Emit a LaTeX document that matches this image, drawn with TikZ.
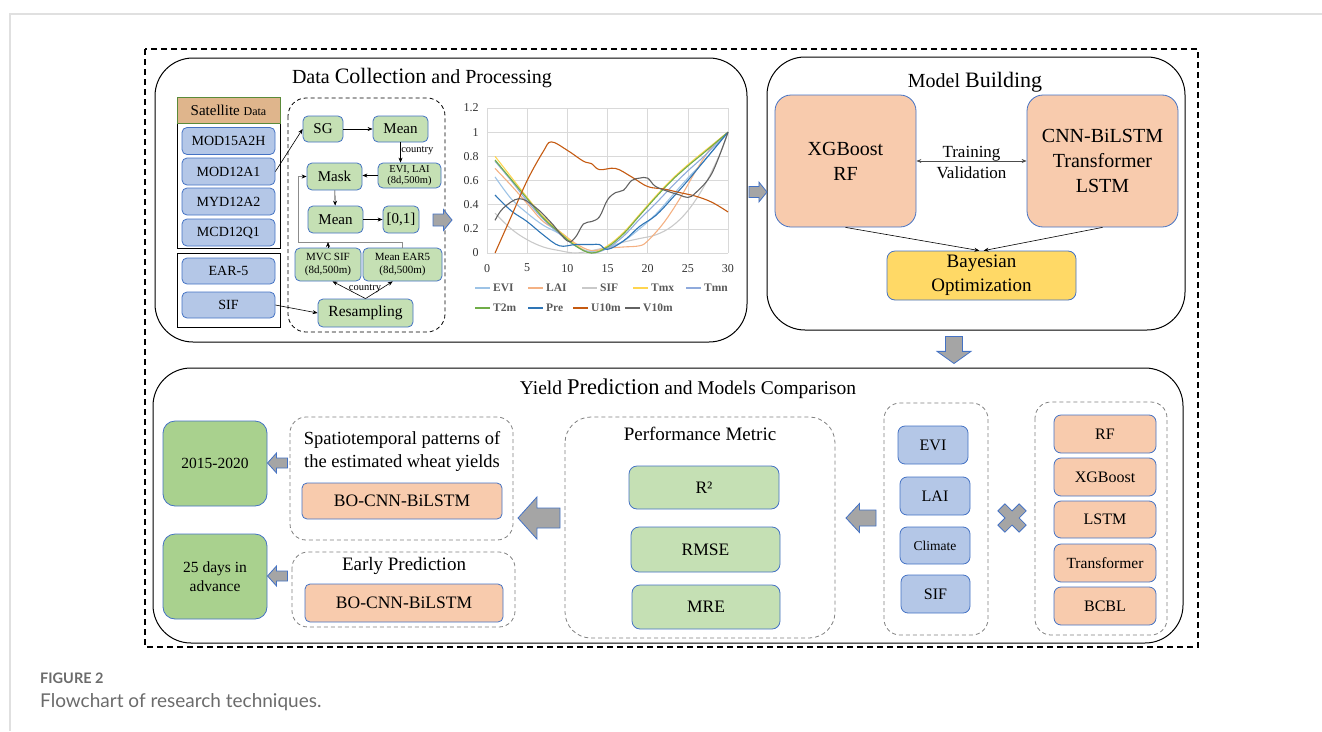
\documentclass[tikz,border=0pt]{standalone}
\usepackage{fontspec}
\setmainfont{Liberation Serif}
\newfontfamily\capFont{Lato}
\usetikzlibrary{arrows.meta,positioning}

\definecolor{edgeBlue}{HTML}{4472C4}
\definecolor{fillBlue}{HTML}{B4C7E7}
\definecolor{fillGreen}{HTML}{C5E0B4}
\definecolor{fillDeepGreen}{HTML}{A9D18E}
\definecolor{fillOrange}{HTML}{F8CBAD}
\definecolor{fillYellow}{HTML}{FFD966}
\definecolor{fillTan}{HTML}{DFB58C}
\definecolor{arrowGray}{HTML}{A5A5A5}
\definecolor{capGray}{HTML}{6B6B6B}
\definecolor{eviC}{HTML}{9DC3E6}
\definecolor{laiC}{HTML}{F4B183}
\definecolor{sifC}{HTML}{C9C9C9}
\definecolor{tmxC}{HTML}{FFD54F}
\definecolor{tmnC}{HTML}{8FAADC}
\definecolor{ttmC}{HTML}{70AD47}
\definecolor{preC}{HTML}{2E75B6}
\definecolor{uwC}{HTML}{C55A11}
\definecolor{vwC}{HTML}{626262}

% block arrow: cx, cy, rotation, length, head width, shaft width
\newcommand{\blockArrow}[6]{%
  \begin{scope}[shift={(#1,#2)}, rotate=#3]
    \draw[blockArr] ({-#4/2},{-#6/2}) -- ({0.05*#4},{-#6/2}) -- ({0.05*#4},{-#5/2})
      -- ({#4/2},0) -- ({0.05*#4},{#5/2}) -- ({0.05*#4},{#6/2}) -- ({-#4/2},{#6/2}) -- cycle;
  \end{scope}}

\begin{document}
\begin{tikzpicture}[
    x=1pt, y=-1pt,
    >={Stealth[length=5pt,width=4pt]},
    pageRule/.style={draw=black!12, line width=1.6pt},
    outerDash/.style={draw=black, line width=1.2pt, dash pattern=on 6pt off 4pt},
    panel/.style={draw=black, line width=1pt, rounded corners=38pt},
    procDash/.style={draw=black, line width=0.8pt, dash pattern=on 4pt off 3pt, rounded corners=18pt},
    groupDash/.style={draw=black!50, line width=0.8pt, dash pattern=on 4pt off 3pt, rounded corners=16pt},
    frameBox/.style={draw=black, line width=1pt},
    baseBox/.style={
        rectangle,
        draw=edgeBlue,
        line width=0.8pt,
        rounded corners=5pt,
        align=center,
        inner sep=1pt
    },
    blueBox/.style={baseBox, fill=fillBlue, font=\fontsize{14}{16}\selectfont},
    greenBox/.style={baseBox, fill=fillGreen, font=\fontsize{15}{17}\selectfont},
    orangeBox/.style={baseBox, fill=fillOrange, font=\fontsize{17.5}{20}\selectfont},
    bigBox/.style={baseBox, fill=fillOrange, rounded corners=16pt, font=\fontsize{20}{25}\selectfont},
    smallNote/.style={font=\fontsize{10.5}{11.5}\selectfont, inner sep=0.5pt},
    flowArr/.style={draw=black, line width=0.6pt, ->},
    feedLine/.style={draw=black!45, line width=1pt, -{Stealth[length=5pt,width=4pt,black]}},
    blockArr/.style={draw=edgeBlue, fill=arrowGray, line width=0.8pt, line join=miter},
    gridLine/.style={draw=black!15, line width=0.5pt},
    axisLbl/.style={font=\fontsize{12}{13}\selectfont, text=black!80, inner sep=1pt},
    curve/.style={line width=1.1pt, smooth, tension=0.6},
    legendTxt/.style={font=\bfseries\fontsize{11.5}{12}\selectfont, text=black!65, anchor=west, inner sep=0pt}
]
\useasboundingbox (0,0) rectangle (1322,731);

% ==================== PAGE & FRAMES ====================
\draw[pageRule] (10,731) -- (10,14) -- (1322,14);
\draw[outerDash] (145,49) rectangle (1198,647);
\draw[panel] (155,58) rectangle (747,342);
\draw[panel] (767,57) rectangle (1185,330);
\draw[panel] (153,368) rectangle (1183,643);

% ==================== DATA COLLECTION ====================
\node (dcTitle) at (422,78) {\fontsize{20}{22}\selectfont Data {\fontsize{22}{24}\selectfont Collection} and Processing};

\draw[frameBox] (177,97) rectangle (280,248);
\node[rectangle, draw=ttmC!80!black, line width=0.8pt, fill=fillTan, minimum width=103pt, minimum height=26pt, inner sep=0pt] (satHead) at (228.5,110) {\fontsize{15}{17}\selectfont Satellite {\fontsize{12}{14}\selectfont Data}};
\node[blueBox, minimum width=93pt, minimum height=27pt] (mod15) at (228.5,141) {MOD15A2H};
\node[blueBox, minimum width=93pt, minimum height=27pt] (mod12a) at (228.5,171.5) {MOD12A1};
\node[blueBox, minimum width=93pt, minimum height=27pt] (myd12) at (228.5,201.5) {MYD12A2};
\node[blueBox, minimum width=93pt, minimum height=27pt] (mcd12) at (228.5,232.5) {MCD12Q1};

\draw[frameBox] (177,253) rectangle (280,327);
\node[blueBox, minimum width=93pt, minimum height=26pt] (ear5) at (228.5,271) {EAR-5};
\node[blueBox, minimum width=93pt, minimum height=26pt] (sifSrc) at (228.5,305) {SIF};

% processing chain
\draw[procDash] (288,98) rectangle (445,332);
\node[greenBox, minimum width=40pt, minimum height=26pt] (sg) at (323,129) {SG};
\node[greenBox, minimum width=55pt, minimum height=26pt] (meanA) at (400.5,129) {Mean};
\node[greenBox, minimum width=63pt, minimum height=25pt, font=\fontsize{10.5}{11.5}\selectfont] (eviLai) at (409.5,175.5) {EVI, LAI\\(8d,500m)};
\node[greenBox, minimum width=55pt, minimum height=27pt] (mask) at (334.5,176.5) {Mask};
\node[greenBox, minimum width=55pt, minimum height=27pt] (meanB) at (335.5,219.5) {Mean};
\node[greenBox, minimum width=36pt, minimum height=27pt] (unit) at (401,219.5) {[0,1]};
\node[greenBox, minimum width=66pt, minimum height=33pt, font=\fontsize{11}{12.5}\selectfont] (mvc) at (328,264.5) {MVC SIF\\(8d,500m)};
\node[greenBox, minimum width=79pt, minimum height=33pt, font=\fontsize{11}{12.5}\selectfont] (meanEar) at (402.5,264.5) {Mean EAR5\\(8d,500m)};
\node[greenBox, minimum width=95pt, minimum height=28pt, font=\fontsize{15.5}{17}\selectfont] (resamp) at (365.5,313) {Resampling};

\draw[flowArr] (mod12a.east) -- (sg.west);
\draw[flowArr] (sifSrc.east) -- (resamp.west);
\draw[flowArr] (sg) -- (meanA);
\draw[flowArr] (meanA.south) -- node[right, smallNote, pos=0.4] (cntryA) {country} (meanA.south |- eviLai.north);
\draw[flowArr] (eviLai.west) -- (mask.east |- eviLai.west);
\draw[flowArr] (mask) -- (meanB);
\draw[flowArr] (meanB) -- (unit);
\coordinate (fbTurn) at (298,242);
\draw[feedLine] (meanEar.north) |- (fbTurn) |- (mask.west);
\draw[flowArr] (mvc.north) -- (mvc.north |- fbTurn);
\draw[flowArr] (resamp.north) -- (mvc.-75);
\draw[flowArr] (resamp.north) -- (meanEar.-120);
\node[smallNote] (cntryB) at (365,289) {country};

\blockArrow{442.5}{220}{0}{19}{21}{12}

% ==================== CHART ====================
\begin{scope}[shift={(487,253)}, x=8.033pt, y=120.8pt]
\foreach \gx in {0,5,...,30} \draw[gridLine] (\gx,0) -- (\gx,1.2);
\foreach \gy in {0,0.2,0.4,0.6,0.8,1,1.2} \draw[gridLine] (0,\gy) -- (30,\gy);
\foreach \gy in {0,0.2,0.4,0.6,0.8,1,1.2} \node[axisLbl, anchor=east] (yl\gy) at (-0.9,\gy) {\gy};
\foreach \gx in {0,5,...,30} \node[axisLbl] (xl\gx) at (\gx,-0.125) {\gx};

\draw[curve, sifC] plot coordinates {(1,0.33) (3,0.2) (5,0.11) (7,0.05) (9,0.02) (11,0.0) (13,0.02) (15,0.05) (17,0.09) (19,0.12) (21,0.15) (23,0.22) (25,0.35) (27,0.55) (29,0.82) (30,1)};
\draw[curve, eviC] plot coordinates {(1,0.63) (3,0.45) (5,0.33) (7,0.23) (9,0.16) (11,0.06) (13,0.01) (15,0.04) (17,0.1) (19,0.2) (21,0.32) (23,0.47) (25,0.62) (27,0.76) (30,1)};
\draw[curve, laiC] plot coordinates {(1,0.7) (3,0.56) (5,0.41) (7,0.26) (9,0.18) (11,0.08) (13,0.02) (15,0.04) (17,0.05) (19,0.06) (20,0.1) (22,0.25) (24,0.45) (26,0.68) (28,0.88) (30,1)};
\draw[curve, tmxC] plot coordinates {(1,0.8) (3,0.63) (5,0.46) (7,0.3) (9,0.18) (11,0.07) (13,0.0) (15,0.06) (17,0.17) (19,0.32) (21,0.47) (23,0.61) (25,0.73) (27,0.84) (30,1)};
\draw[curve, tmnC] plot coordinates {(1,0.76) (3,0.6) (5,0.43) (7,0.28) (9,0.16) (11,0.06) (13,0.0) (15,0.04) (17,0.14) (19,0.28) (21,0.41) (23,0.55) (25,0.68) (27,0.8) (30,1)};
\draw[curve, ttmC] plot coordinates {(1,0.77) (3,0.61) (5,0.45) (7,0.29) (9,0.17) (11,0.06) (13,0.0) (15,0.05) (17,0.16) (19,0.31) (21,0.46) (23,0.6) (25,0.72) (27,0.83) (30,1)};
\draw[curve, preC] plot coordinates {(1,0.48) (3,0.35) (5,0.26) (7,0.15) (9,0.06) (11,0.07) (13,0.07) (14,0.07) (15,0.03) (17,0.1) (19,0.22) (21,0.31) (23,0.45) (25,0.6) (27,0.76) (30,1)};
\draw[curve, uwC] plot coordinates {(1,0) (3,0.3) (5,0.6) (7,0.84) (8,0.92) (10,0.85) (12,0.76) (13,0.74) (14,0.69) (16,0.7) (18,0.63) (20,0.55) (22,0.53) (24,0.5) (26,0.47) (28,0.42) (30,0.34)};
\draw[curve, vwC] plot coordinates {(1,0.27) (2,0.37) (4,0.45) (6,0.38) (8,0.25) (10,0.1) (11,0.13) (12,0.24) (13,0.26) (14,0.3) (15,0.44) (16,0.5) (17,0.52) (18,0.6) (19,0.62) (20,0.62) (21,0.55) (23,0.5) (24,0.48) (25,0.46) (26,0.5) (28,0.66) (30,1)};
\end{scope}

% legend
\foreach \lx/\ly/\lc/\lt in {475/288/eviC/EVI, 528/288/laiC/LAI, 582/288/sifC/SIF, 633/288/tmxC/Tmx, 686/288/tmnC/Tmn,
                             475/308/ttmC/T2m, 528/308/preC/Pre, 573/308/uwC/U10m, 625/308/vwC/V10m} {
    \draw[\lc, line width=1.1pt] (\lx,\ly) -- ++(15,0);
    \node[legendTxt] (lg\lt) at (\lx+18,\ly) {\lt};
}

\blockArrow{758}{192}{0}{18}{20}{11}

% ==================== MODEL BUILDING ====================
\node (mbTitle) at (975,82) {\fontsize{20}{22}\selectfont Model {\fontsize{22}{24}\selectfont Building}};
\node[bigBox, minimum width=141pt, minimum height=132pt] (xgb) at (845.5,161) {XGBoost\\RF};
\node[bigBox, minimum width=151pt, minimum height=132pt] (cnn) at (1102.5,161) {CNN-BiLSTM\\Transformer\\LSTM};
\node[baseBox, fill=fillYellow, rounded corners=8pt, minimum width=189pt, minimum height=49pt, font=\fontsize{19}{24}\selectfont] (bayes) at (981.5,275.5) {Bayesian\\Optimization};

\draw[draw=black!70, line width=0.7pt, <->] (xgb) -- node[above=-4pt, font=\fontsize{17}{19}\selectfont, text=black] (trainLbl) {Training} node[below=2pt, font=\fontsize{17}{19}\selectfont, text=black] (validLbl) {Validation} (cnn);
\draw[flowArr] (xgb.south) -- (bayes.95);
\draw[flowArr] (cnn.south) -- (bayes.85);

\blockArrow{954}{350}{-90}{27}{34}{17}

% ==================== YIELD PREDICTION ====================
\node (ypTitle) at (688,389) {\fontsize{19.5}{22}\selectfont Yield {\fontsize{22.5}{24}\selectfont Prediction} and Models Comparison};

\node[baseBox, fill=fillDeepGreen, rounded corners=12pt, minimum width=104pt, minimum height=85pt, font=\fontsize{15.5}{18}\selectfont] (yrs) at (215,463.5) {2015-2020};
\node[baseBox, fill=fillDeepGreen, rounded corners=12pt, minimum width=104pt, minimum height=85pt, font=\fontsize{15.5}{19}\selectfont] (adv) at (215,576.5) {25 days in\\advance};

\draw[groupDash] (290,417) rectangle (513,540);
\node[align=center, font=\fontsize{18.5}{23}\selectfont] (spatTxt) at (402,451) {Spatiotemporal patterns of\\the estimated wheat yields};
\node[orangeBox, minimum width=200pt, minimum height=36pt] (boA) at (402,501) {BO-CNN-BiLSTM};

\draw[groupDash] (292,552) rectangle (515,627);
\node[font=\fontsize{19}{21}\selectfont] (earlyTxt) at (404,566) {Early Prediction};
\node[orangeBox, minimum width=198pt, minimum height=38pt] (boB) at (404,603) {BO-CNN-BiLSTM};

\blockArrow{277.5}{463}{180}{20}{20}{10}
\blockArrow{277.5}{576}{180}{20}{20}{10}
\blockArrow{539}{518}{180}{42}{42}{20}

% performance metric
\draw[groupDash, rounded corners=26pt] (565,417) rectangle (835,638);
\node[font=\fontsize{19}{21}\selectfont] (perfTxt) at (700,434) {Performance Metric};
\node[greenBox, rounded corners=8pt, minimum width=150pt, minimum height=43pt, font=\fontsize{17.5}{20}\selectfont] (rsq) at (704,487.5) {R²};
\node[greenBox, rounded corners=8pt, minimum width=149pt, minimum height=45pt, font=\fontsize{17.5}{20}\selectfont] (rmse) at (705.5,549.5) {RMSE};
\node[greenBox, rounded corners=8pt, minimum width=148pt, minimum height=44pt, font=\fontsize{17.5}{20}\selectfont] (mre) at (706,607) {MRE};

\blockArrow{861}{518}{180}{30}{29}{16}

% inputs
\draw[groupDash] (884,403) rectangle (988,635);
\node[blueBox, rounded corners=7pt, minimum width=70pt, minimum height=38pt, font=\fontsize{16}{18}\selectfont] (eviIn) at (933,445) {EVI};
\node[blueBox, rounded corners=7pt, minimum width=70pt, minimum height=38pt, font=\fontsize{16}{18}\selectfont] (laiIn) at (935,496) {LAI};
\node[blueBox, rounded corners=7pt, minimum width=70pt, minimum height=37pt, font=\fontsize{13.5}{15}\selectfont] (climIn) at (935,545.5) {Climate};
\node[blueBox, rounded corners=7pt, minimum width=69pt, minimum height=38pt, font=\fontsize{16}{18}\selectfont] (sifIn) at (935.5,594) {SIF};

% cross
\begin{scope}[shift={(1012,518)}, rotate=45]
\draw[blockArr] (-5,-15) -- (5,-15) -- (5,-5) -- (15,-5) -- (15,5) -- (5,5) -- (5,15) -- (-5,15) -- (-5,5) -- (-15,5) -- (-15,-5) -- (-5,-5) -- cycle;
\end{scope}

% models
\draw[groupDash] (1035,402) rectangle (1167,635);
\node[orangeBox, rounded corners=7pt, minimum width=102pt, minimum height=38pt, font=\fontsize{16}{18}\selectfont] (rfM) at (1105,434) {RF};
\node[orangeBox, rounded corners=7pt, minimum width=102pt, minimum height=38pt, font=\fontsize{16}{18}\selectfont] (xgbM) at (1105,477) {XGBoost};
\node[orangeBox, rounded corners=7pt, minimum width=102pt, minimum height=37pt, font=\fontsize{16}{18}\selectfont] (lstmM) at (1105,519.5) {LSTM};
\node[orangeBox, rounded corners=7pt, minimum width=102pt, minimum height=38pt, font=\fontsize{15.5}{18}\selectfont] (transM) at (1105,563) {Transformer};
\node[orangeBox, rounded corners=7pt, minimum width=102pt, minimum height=38pt, font=\fontsize{16}{18}\selectfont] (bcblM) at (1105,606) {BCBL};

% ==================== CAPTION ====================
\node[anchor=base west, inner sep=0pt, text=capGray, font=\capFont\bfseries\fontsize{14.5}{17}\selectfont] (figLbl) at (40,683) {FIGURE 2};
\node[anchor=base west, inner sep=0pt, text=capGray, font=\capFont\fontsize{19}{22}\selectfont] (figCap) at (40,707) {Flowchart of research techniques.};

\end{tikzpicture}
\end{document}
